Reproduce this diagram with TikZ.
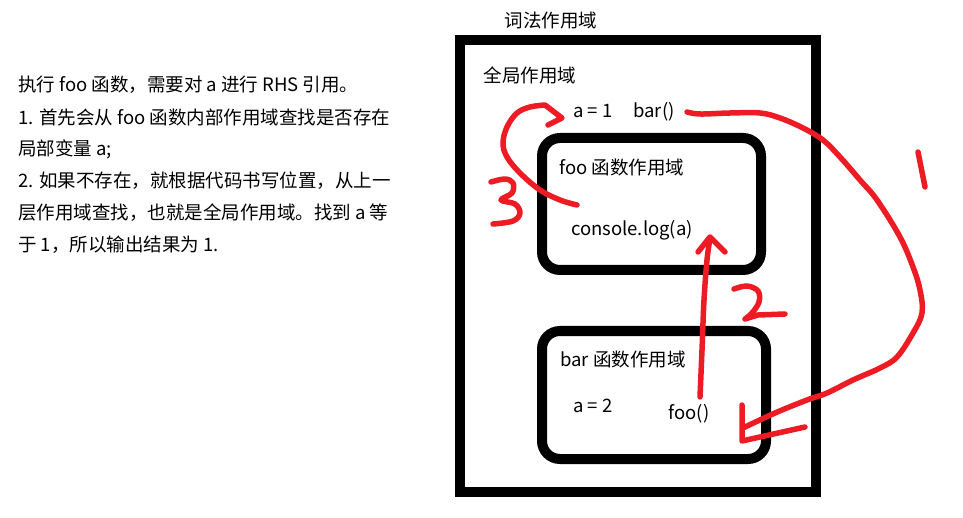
\documentclass[tikz,border=0pt]{standalone}
\usepackage{fontspec}
\setmainfont{Noto Sans CJK SC}
\definecolor{penred}{HTML}{ED1C24}
\begin{document}
\begin{tikzpicture}[x=1pt,y=-1pt,
  scopebox/.style={draw=black,line width=10pt,inner sep=0pt},
  fnbox/.style={draw=black,line width=10pt,rounded corners=18pt,inner sep=0pt},
  lbl/.style={font=\fontsize{18.5}{22}\selectfont,inner sep=0pt},
  para/.style={font=\fontsize{18.5}{22}\selectfont,inner sep=0pt,anchor=west},
  ink/.style={draw=penred,line width=5.5pt,line cap=round,line join=round}]
\useasboundingbox (0,0) rectangle (963,518);
% boxes
\node[scopebox,minimum width=355.7pt,minimum height=452pt] (lex) at (637.8,266) {};
\node[fnbox,minimum width=219pt,minimum height=132pt] (foobox) at (651.5,204) {};
\node[fnbox,minimum width=224pt,minimum height=128pt] (barbox) at (654,395) {};
% labels
\node[lbl] (lexl) at (551,21) {词法作用域};
\node[lbl] (globl) at (530,75) {全局作用域};
\node[lbl] (a1) at (593,111) {a = 1};
\node[lbl] (barcall) at (654,112) {bar()};
\node[lbl] (fool) at (622,168) {foo 函数作用域};
\node[lbl] (cons) at (632,230) {console.log(a)};
\node[lbl] (barl) at (623,360) {bar 函数作用域};
\node[lbl] (a2) at (593,406) {a = 2};
\node[lbl] (foocall) at (689,414) {foo()};
% left text
\node[para] (t1) at (18,85) {执行 foo 函数，需要对 a 进行 RHS 引用。};
\node[para] (t2) at (18,117) {1. 首先会从 foo 函数内部作用域查找是否存在};
\node[para] (t3) at (18,149) {局部变量 a;};
\node[para] (t4) at (18,181) {2. 如果不存在，就根据代码书写位置，从上一};
\node[para] (t5) at (18,213) {层作用域查找，也就是全局作用域。找到 a 等};
\node[para] (t6) at (18,245) {于 1，所以输出结果为 1.};
% red stroke 1: bar() -> foo()
\draw[ink] plot[smooth,tension=0.6] coordinates {(687,112) (700,114) (730,113) (760,113) (780,118) (803,128) (823,140) (840,157) (860,180) (877,200) (900,237) (913,267) (920,290) (922,313) (913,333) (897,357) (880,368) (853,380) (827,393) (807,400) (775,413) (743,428)};
\draw[ink] (742,405) -- (742,441) -- (805,427);
\draw[ink] (918,152) -- (925,187);
% red stroke 2: foo() -> console.log(a)
\draw[ink] plot[smooth,tension=0.6] coordinates {(700,397) (702,350) (704,300) (707,260) (710,238)};
\draw[ink] (698,252) -- (710,237) -- (725,252);
\draw[ink] plot[smooth,tension=0.6] coordinates {(734,289) (747,286) (758,291) (759,302) (752,313) (745,319)} -- (758,315) -- (785,314);
% red stroke 3: console.log(a) -> a = 1
\draw[ink] plot[smooth,tension=0.6] coordinates {(577,205) (560,200) (540,190) (520,173) (507,157) (503,143) (507,127) (517,113) (530,107) (545,105)} -- (562,118) -- (548,125);
\draw[ink] plot[smooth,tension=0.6] coordinates {(491,182) (505,179) (513,183) (512,193) (501,200) (515,204) (520,213) (513,221) (493,224)};
\end{tikzpicture}
\end{document}
